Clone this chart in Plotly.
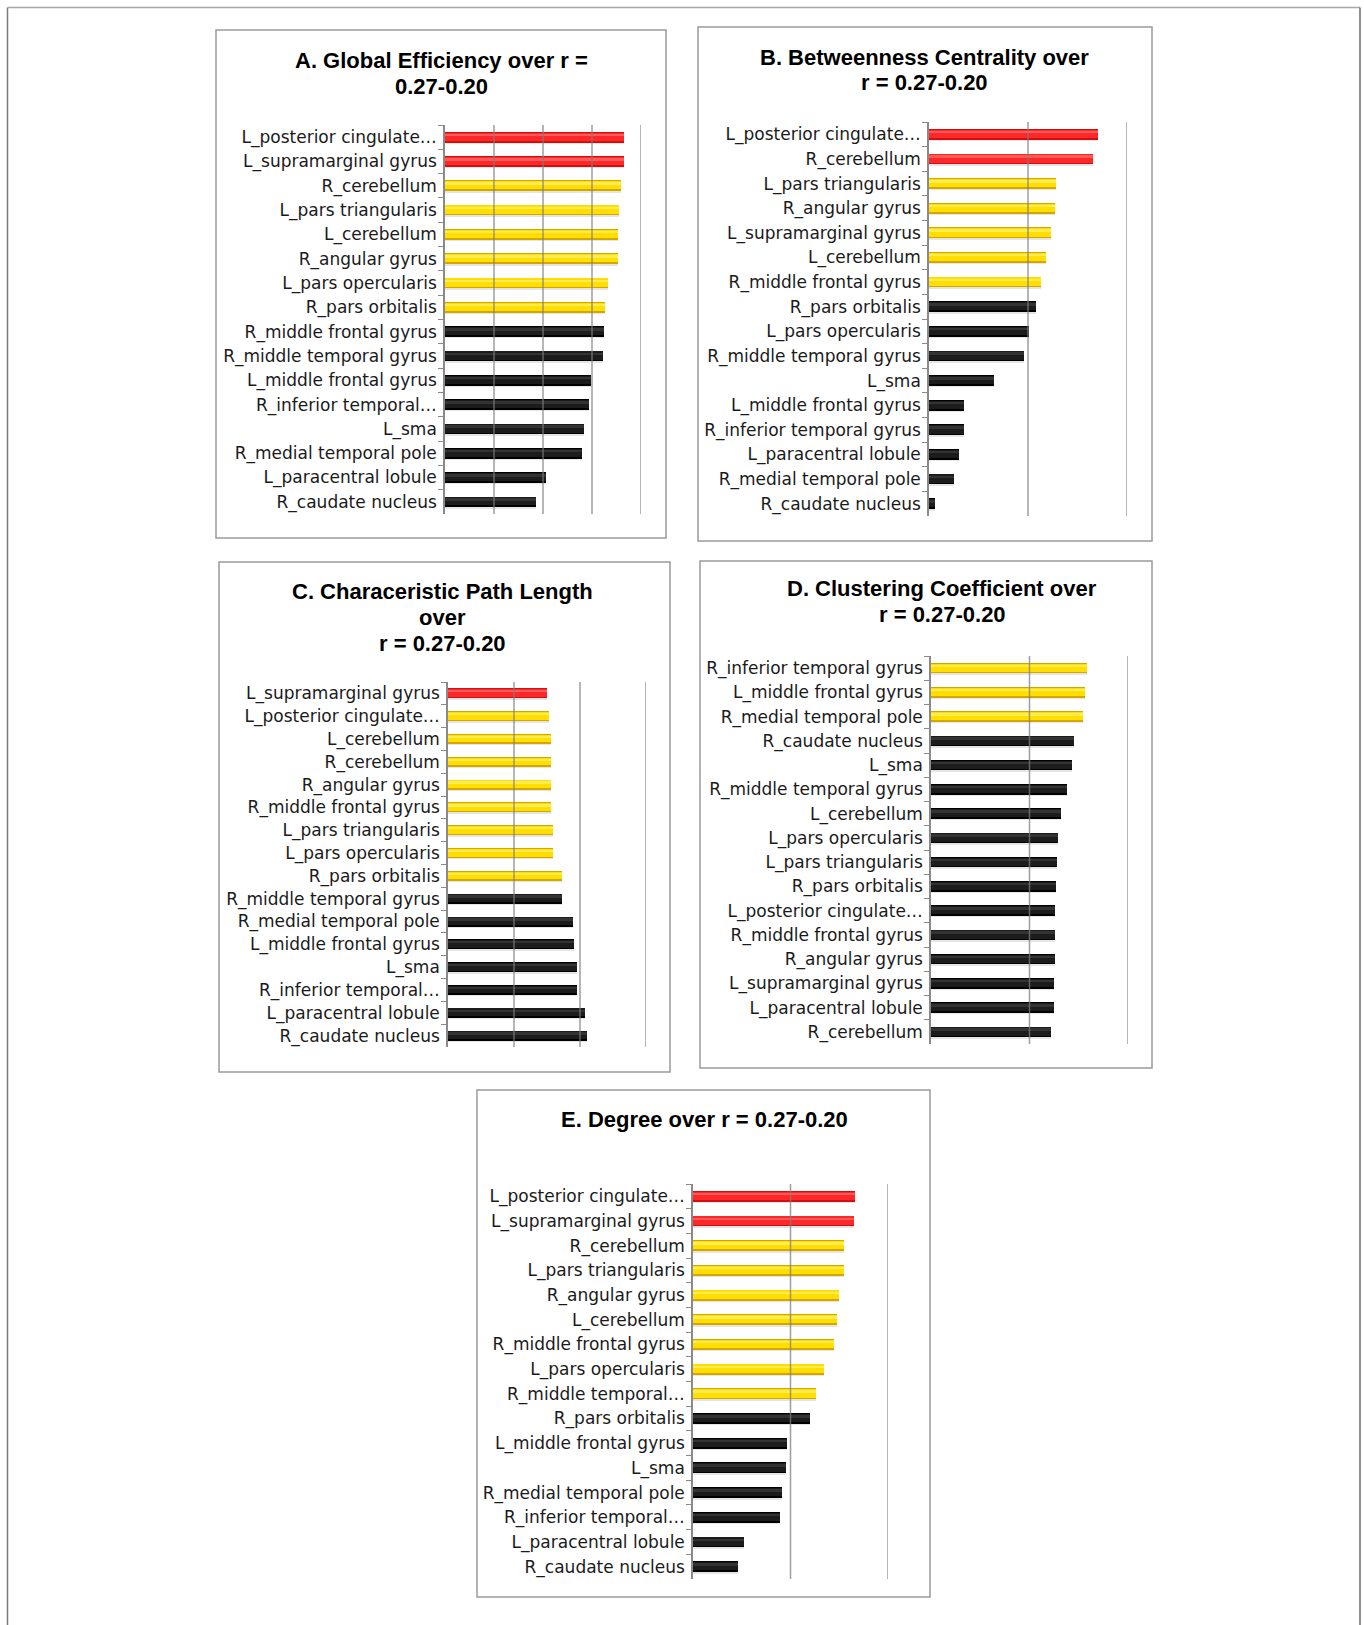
import plotly.graph_objects as go

W, H = 1364, 1625

# ---------------- data ----------------
A_title = ["A. Global Efficiency over r =", "0.27-0.20"]
A_labels = ["L_posterior cingulate…", "L_supramarginal gyrus", "R_cerebellum", "L_pars triangularis",
            "L_cerebellum", "R_angular gyrus", "L_pars opercularis", "R_pars orbitalis",
            "R_middle frontal gyrus", "R_middle temporal gyrus", "L_middle frontal gyrus",
            "R_inferior temporal…", "L_sma", "R_medial temporal pole", "L_paracentral lobule",
            "R_caudate nucleus"]
A_values = [3.66, 3.66, 3.59, 3.56, 3.53, 3.53, 3.32, 3.26, 3.25, 3.22, 2.97, 2.93, 2.84, 2.79, 2.06, 1.85]
A_tiers = ["top", "top", "high", "high", "high", "high", "high", "high",
           "base", "base", "base", "base", "base", "base", "base", "base"]
A_axis_max = 4

B_title = ["B. Betweenness Centrality over", "r = 0.27-0.20"]
B_labels = ["L_posterior cingulate…", "R_cerebellum", "L_pars triangularis", "R_angular gyrus",
            "L_supramarginal gyrus", "L_cerebellum", "R_middle frontal gyrus", "R_pars orbitalis",
            "L_pars opercularis", "R_middle temporal gyrus", "L_sma", "L_middle frontal gyrus",
            "R_inferior temporal gyrus", "L_paracentral lobule", "R_medial temporal pole",
            "R_caudate nucleus"]
B_values = [1.707, 1.657, 1.28, 1.276, 1.232, 1.178, 1.131, 1.077, 1.01, 0.96, 0.657, 0.354, 0.354,
            0.306, 0.253, 0.064]
B_tiers = ["top", "top", "high", "high", "high", "high", "high",
           "base", "base", "base", "base", "base", "base", "base", "base", "base"]
B_axis_max = 2

C_title = ["C. Characeristic Path Length", "over", "r = 0.27-0.20"]
C_labels = ["L_supramarginal gyrus", "L_posterior cingulate…", "L_cerebellum", "R_cerebellum",
            "R_angular gyrus", "R_middle frontal gyrus", "L_pars triangularis", "L_pars opercularis",
            "R_pars orbitalis", "R_middle temporal gyrus", "R_medial temporal pole",
            "L_middle frontal gyrus", "L_sma", "R_inferior temporal…", "L_paracentral lobule",
            "R_caudate nucleus"]
C_values = [1.503, 1.523, 1.553, 1.553, 1.553, 1.563, 1.584, 1.594, 1.721, 1.731, 1.893, 1.914,
            1.949, 1.949, 2.081, 2.102]
C_tiers = ["top", "high", "high", "high", "high", "high", "high", "high", "high",
           "base", "base", "base", "base", "base", "base", "base"]
C_axis_max = 3

D_title = ["D. Clustering Coefficient over", "r = 0.27-0.20"]
D_labels = ["R_inferior temporal gyrus", "L_middle frontal gyrus", "R_medial temporal pole",
            "R_caudate nucleus", "L_sma", "R_middle temporal gyrus", "L_cerebellum",
            "L_pars opercularis", "L_pars triangularis", "R_pars orbitalis", "L_posterior cingulate…",
            "R_middle frontal gyrus", "R_angular gyrus", "L_supramarginal gyrus",
            "L_paracentral lobule", "R_cerebellum"]
D_values = [1.582, 1.565, 1.542, 1.453, 1.436, 1.385, 1.324, 1.294, 1.284, 1.270, 1.263, 1.260,
            1.256, 1.253, 1.250, 1.219]
D_tiers = ["high", "high", "high"] + ["base"] * 13
D_axis_max = 2

E_title = ["E. Degree over r = 0.27-0.20"]
E_labels = ["L_posterior cingulate…", "L_supramarginal gyrus", "R_cerebellum", "L_pars triangularis",
            "R_angular gyrus", "L_cerebellum", "R_middle frontal gyrus", "L_pars opercularis",
            "R_middle temporal…", "R_pars orbitalis", "L_middle frontal gyrus", "L_sma",
            "R_medial temporal pole", "R_inferior temporal…", "L_paracentral lobule",
            "R_caudate nucleus"]
E_values = [1.662, 1.651, 1.549, 1.549, 1.494, 1.477, 1.443, 1.340, 1.262, 1.200, 0.961, 0.950,
            0.913, 0.892, 0.520, 0.458]
E_tiers = ["top", "top", "high", "high", "high", "high", "high", "high", "high",
           "base", "base", "base", "base", "base", "base", "base"]
E_axis_max = 2

# ---------------- styling / layout ----------------
TIER_STYLE = {
    "top":  dict(edge="#d01010", body="#ff2828", hi="#ff5a5a"),
    "high": dict(edge="#d2a800", body="#ffde00", hi="#ffec55"),
    "base": dict(edge="#000000", body="#1c1c1c", hi="#333333"),
}

# pixel geometry of each panel: plot area (x0, x1, ytop, ybottom), frame box, title first-line centre
PANELS = [
    dict(title=A_title, labels=A_labels, values=A_values, tiers=A_tiers, amax=A_axis_max,
         plot=(445, 641, 125, 514), box=(216, 666, 30, 538), tcx=441, tcy=60),
    dict(title=B_title, labels=B_labels, values=B_values, tiers=B_tiers, amax=B_axis_max,
         plot=(929, 1127, 122, 516), box=(698, 1152, 27, 541), tcx=925, tcy=57),
    dict(title=C_title, labels=C_labels, values=C_values, tiers=C_tiers, amax=C_axis_max,
         plot=(448, 646, 682, 1047), box=(219, 670, 562, 1072), tcx=442, tcy=591),
    dict(title=D_title, labels=D_labels, values=D_values, tiers=D_tiers, amax=D_axis_max,
         plot=(931, 1128, 656, 1044), box=(700, 1152, 561, 1068), tcx=942, tcy=588),
    dict(title=E_title, labels=E_labels, values=E_values, tiers=E_tiers, amax=E_axis_max,
         plot=(693, 888, 1184, 1579), box=(477, 930, 1090, 1597), tcx=704, tcy=1119),
]
TITLE_LINE_GAP = 26

def px(x):
    return x / W

def py(y):
    return 1 - y / H

fig = go.Figure()
shapes = []
annotations = []
layout_axes = {}

GRID = "rgba(125,125,125,0.75)"
AXC = "#8a8a8a"

for i, p in enumerate(PANELS, start=1):
    sx = "" if i == 1 else str(i)
    xa, ya = "x" + sx, "y" + sx
    x0, x1, yt, yb = p["plot"]
    labels, values, tiers = p["labels"], p["values"], p["tiers"]

    edge = [TIER_STYLE[t]["edge"] for t in tiers]
    body = [TIER_STYLE[t]["body"] for t in tiers]
    hi = [TIER_STYLE[t]["hi"] for t in tiers]

    common = dict(x=values, y=labels, orientation="h", xaxis=xa, yaxis=ya,
                  hoverinfo="skip", showlegend=False)
    # soft drop shadow
    fig.add_trace(go.Bar(**common, width=0.44, offset=-0.16,
                         marker=dict(color="rgba(0,0,0,0.10)", line=dict(width=0))))
    # dark edge
    fig.add_trace(go.Bar(**common, width=0.44, offset=-0.22,
                         marker=dict(color=edge, line=dict(width=0))))
    # body
    fig.add_trace(go.Bar(**common, width=0.34, offset=-0.19,
                         marker=dict(color=body, line=dict(width=0))))
    # highlight
    fig.add_trace(go.Bar(**common, width=0.08, offset=-0.12,
                         marker=dict(color=hi, line=dict(width=0))))

    layout_axes["xaxis" + sx] = dict(
        domain=[px(x0), px(x1)], range=[0, p["amax"]], anchor=ya,
        showgrid=False, zeroline=False, showline=False, showticklabels=False,
        ticks="", fixedrange=True)
    layout_axes["yaxis" + sx] = dict(
        domain=[py(yb), py(yt)], anchor=xa, type="category",
        autorange="reversed", showgrid=False, zeroline=False,
        showline=True, linecolor=AXC, linewidth=1.5,
        ticks="outside", tickson="boundaries", ticklen=5, tickwidth=1.3, tickcolor=AXC,
        ticklabelstandoff=3,
        tickfont=dict(family="DejaVu Sans", size=17, color="#1a1a1a"),
        fixedrange=True)

    # vertical gridlines at each major unit, drawn over the bars as in the original
    for g in range(1, p["amax"] + 1):
        shapes.append(dict(type="line", xref=xa, yref=ya + " domain", x0=g, x1=g, y0=0, y1=1,
                           layer="above", line=dict(color=GRID, width=1.5)))

    # panel frame
    bx0, bx1, by0, by1 = p["box"]
    shapes.append(dict(type="rect", xref="paper", yref="paper",
                       x0=px(bx0), x1=px(bx1), y0=py(by1), y1=py(by0),
                       line=dict(color="#9a9a9a", width=1.5), layer="below"))

    for k, line in enumerate(p["title"]):
        annotations.append(dict(text="<b>" + line + "</b>", xref="paper", yref="paper",
                                x=px(p["tcx"]), y=py(p["tcy"] + k * TITLE_LINE_GAP),
                                xanchor="center", yanchor="middle",
                                showarrow=False, align="center",
                                font=dict(family="Liberation Sans", size=22, color="#000000")))

# outer page frame
shapes.append(dict(type="line", xref="paper", yref="paper", x0=px(7.5), x1=px(7.5), y0=0, y1=py(7.5),
                   line=dict(color="#7a7a7a", width=1.5)))
shapes.append(dict(type="line", xref="paper", yref="paper", x0=px(7.5), x1=px(1360), y0=py(7.5), y1=py(7.5),
                   line=dict(color="#a8a8a8", width=1.5)))
shapes.append(dict(type="line", xref="paper", yref="paper", x0=px(1360), x1=px(1360), y0=0, y1=py(7.5),
                   line=dict(color="#6a6a6a", width=1.5)))

fig.update_layout(
    width=W, height=H, margin=dict(l=0, r=0, t=0, b=0, pad=0),
    paper_bgcolor="white", plot_bgcolor="white",
    barmode="overlay", bargap=0,
    shapes=shapes, annotations=annotations,
    **layout_axes,
)

fig.write_html("out.html", config={"displayModeBar": False})
